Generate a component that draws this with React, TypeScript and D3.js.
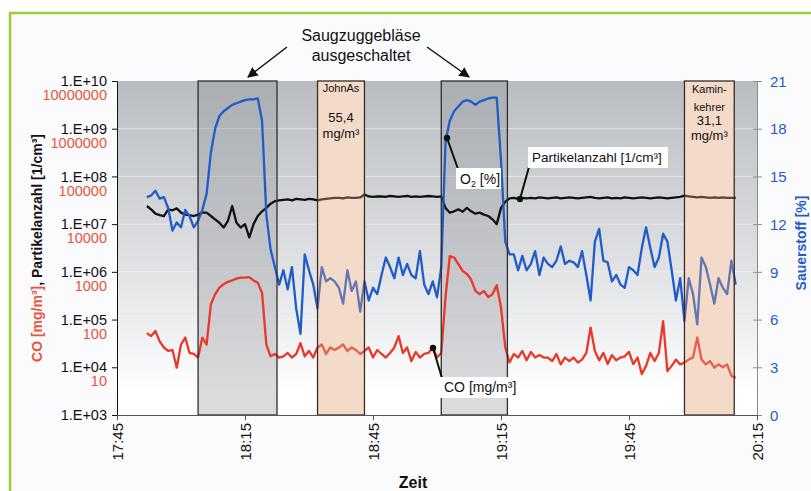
import React, { useEffect, useRef } from "react";
import * as d3 from "d3";

const W = 811;
const H = 491;

// one reading per minute, first one at 17:52
const startTime = "17:52";

// Sauerstoff [%]
const oxygen = [
  13.7, 13.8, 14.1, 13.6, 13.7, 13.0, 11.6, 12.1, 11.8, 12.9,
  12.5, 11.8, 12.2, 12.9, 13.9, 16.5, 18.0, 18.8, 19.1, 19.3,
  19.5, 19.6, 19.7, 19.8, 19.85, 19.85, 19.9, 18.5, 12.6, 10.4,
  9.3, 8.2, 9.1, 7.9, 9.3, 6.7, 5.1, 10.1, 9.1, 8.2,
  6.7, 9.3, 8.4, 8.6, 8.4, 8.0, 7.0, 9.1, 7.8, 8.4,
  6.5, 8.4, 7.2, 8.0, 7.6, 8.8, 9.9, 9.3, 8.6, 9.9,
  8.8, 9.5, 8.8, 8.6, 10.3, 8.2, 7.6, 8.4, 7.4, 9.3,
  17.2, 18.5, 19.1, 19.4, 19.7, 19.8, 19.7, 19.5, 19.7, 19.8,
  19.9, 19.95, 19.95, 16.0, 10.9, 10.1, 10.1, 9.1, 10.0, 9.1,
  9.5, 10.3, 8.8, 9.9, 9.5, 9.3, 9.7, 10.6, 9.5, 9.7,
  9.6, 9.3, 10.3, 8.8, 7.2, 10.9, 11.7, 9.7, 9.6, 8.4,
  8.8, 8.2, 8.0, 9.3, 9.1, 8.8, 10.5, 11.8, 10.5, 9.3,
  9.9, 11.4, 10.9, 9.1, 7.2, 8.6, 5.9, 8.6, 7.6, 5.7,
  9.9, 9.3, 8.2, 7.0, 8.6, 8.0, 7.6, 9.7, 8.2,
];

// Partikelanzahl [1/cm³]
const particles = [
  2.4e7, 2.04e7, 1.66e7, 1.55e7, 1.48e7, 2.04e7, 1.95e7, 2.14e7, 1.74e7, 1.58e7,
  1.55e7, 1.48e7, 1.58e7, 1.74e7, 1.74e7, 1.48e7, 1.26e7, 1.07e7, 8.5e6, 1.17e7,
  2.4e7, 1.07e7, 8.5e6, 1.0e7, 5.25e6, 1.0e7, 1.48e7, 1.86e7, 2.19e7, 2.69e7,
  3.02e7, 3.16e7, 3.24e7, 3.31e7, 3.16e7, 3.39e7, 3.31e7, 3.24e7, 3.39e7, 3.31e7,
  3.16e7, 3.31e7, 3.39e7, 3.47e7, 3.55e7, 3.55e7, 3.47e7, 3.63e7, 3.55e7, 3.55e7,
  3.63e7, 4.17e7, 3.8e7, 3.72e7, 3.8e7, 3.8e7, 3.72e7, 3.89e7, 3.8e7, 3.72e7,
  3.8e7, 3.89e7, 3.72e7, 3.8e7, 3.72e7, 3.8e7, 3.89e7, 3.8e7, 3.72e7, 3.8e7,
  2.19e7, 1.74e7, 1.86e7, 2.04e7, 1.82e7, 2.19e7, 1.86e7, 1.66e7, 1.74e7, 1.58e7,
  1.48e7, 1.26e7, 1.0e7, 2.19e7, 2.95e7, 3.47e7, 3.55e7, 3.39e7, 3.55e7, 3.47e7,
  3.55e7, 3.47e7, 3.63e7, 3.55e7, 3.47e7, 3.55e7, 3.63e7, 3.47e7, 3.55e7, 3.63e7,
  3.55e7, 3.47e7, 3.55e7, 3.63e7, 3.72e7, 3.55e7, 3.47e7, 3.55e7, 3.63e7, 3.47e7,
  3.55e7, 3.47e7, 3.63e7, 3.55e7, 3.47e7, 3.55e7, 3.63e7, 3.55e7, 3.47e7, 3.55e7,
  3.63e7, 3.55e7, 3.47e7, 3.55e7, 3.63e7, 3.72e7, 3.98e7, 3.8e7, 3.72e7, 3.63e7,
  3.72e7, 3.63e7, 3.55e7, 3.63e7, 3.55e7, 3.63e7, 3.55e7, 3.55e7, 3.55e7,
];

// CO [mg/m³]
const co = [
  52, 45, 58, 35, 26, 22, 23, 9.8, 30, 42,
  20, 19, 16, 42, 30, 209, 339, 468, 550, 617,
  661, 724, 759, 759, 776, 661, 589, 363, 30, 17,
  19, 16, 17, 20, 16, 19, 32, 17, 22, 16,
  26, 30, 19, 26, 23, 26, 30, 22, 26, 23,
  19, 22, 26, 16, 23, 19, 16, 20, 26, 45,
  20, 26, 13.5, 21, 16, 19, 20, 26, 16, 20,
  300, 2140, 2000, 1450, 1050, 900, 690, 400, 340, 400,
  295, 340, 525, 180, 26, 12.6, 19, 16, 22, 14,
  21, 16, 18, 16, 16, 13.5, 19, 11.5, 16, 13.5,
  16, 12.6, 14.5, 20, 68, 22, 14, 20, 11.7, 18,
  14, 16, 17, 21, 11.7, 16, 7.2, 10.7, 20, 13.5,
  20, 93, 8.3, 10.7, 14.5, 11.5, 12.6, 14.5, 16, 42,
  14.5, 11.5, 13.5, 9.8, 11.5, 10, 11.5, 6.6, 6,
];

// Saugzuggebläse ausgeschaltet
const fanOffFrom = ["18:04:00", "19:01:00"];
const fanOffTo = ["18:22:30", "19:16:30"];

// reference measurements
const refFrom = ["18:32:00", "19:58:00"];
const refTo = ["18:43:00", "20:09:40"];

const particleTicks = [1e3, 1e4, 1e5, 1e6, 1e7, 1e8, 1e9, 1e10];
const particleTickLabels = ["1.E+03", "1.E+04", "1.E+05", "1.E+06", "1.E+07", "1.E+08", "1.E+09", "1.E+10"];
const coTickLabels = ["", "10", "100", "1000", "10000", "100000", "1000000", "10000000"];
const o2Ticks = [0, 3, 6, 9, 12, 15, 18, 21];
const timeTicks = ["17:45", "18:15", "18:45", "19:15", "19:45", "20:15"];

const parseHM = d3.timeParse("%H:%M");
const parseHMS = d3.timeParse("%H:%M:%S");
const toDate = (s: string) => (s.length > 5 ? parseHMS(s) : parseHM(s)) as Date;

const BLUE = "#1f5cc8";
const RED = "#ea3828";
const RED_LABEL = "#e8553c";
const FONT = "'Liberation Sans', Arial, Helvetica, sans-serif";

const App = () => {
  const svgRef = useRef<SVGSVGElement>(null);

  useEffect(() => {
    document.body.style.margin = "0";
    drawChart();
  }, []);

  const drawChart = () => {
    const root = d3.select(svgRef.current);
    root.selectAll("*").remove();

    const left = 117, right = 757, top = 81, bottom = 415;

    const x = d3.scaleTime().domain([toDate("17:45"), toDate("20:15")]).range([left, right]);
    const yPart = d3.scaleLog().domain([1e3, 1e10]).range([bottom, top]);
    const yCO = d3.scaleLog().domain([1, 1e7]).range([bottom, top]);
    const yO2 = d3.scaleLinear().domain([0, 21]).range([bottom, top]);

    const times = oxygen.map((_, i) => d3.timeMinute.offset(toDate(startTime), i));

    const defs = root.append("defs");
    const grad = defs.append("linearGradient").attr("id", "bg").attr("x1", 0).attr("y1", 0).attr("x2", 0).attr("y2", 1);
    grad.append("stop").attr("offset", "0%").attr("stop-color", "#b9bdc1");
    grad.append("stop").attr("offset", "45%").attr("stop-color", "#d8dadd");
    grad.append("stop").attr("offset", "75%").attr("stop-color", "#eff0f2");
    grad.append("stop").attr("offset", "93%").attr("stop-color", "#ffffff");
    defs.append("marker")
      .attr("id", "arrow")
      .attr("viewBox", "0 0 10 10")
      .attr("refX", 9)
      .attr("refY", 5)
      .attr("markerWidth", 7)
      .attr("markerHeight", 7)
      .attr("orient", "auto")
      .append("path")
      .attr("d", "M0,0 L10,5 L0,10 z")
      .attr("fill", "#111");

    // page + green frame
    root.append("rect").attr("width", W).attr("height", H).attr("fill", "#ffffff");
    root.append("rect").attr("x", 10).attr("y", 13).attr("width", W - 10).attr("height", H - 13).attr("fill", "#fbfbfd");
    root.append("path").attr("d", `M10,${H} L10,13 L${W},13`).attr("fill", "none").attr("stroke", "#9dcb3c").attr("stroke-width", 2.5);

    const svg = root.append("g").style("font-family", FONT);

    // plot background
    svg.append("rect").attr("x", left).attr("y", top).attr("width", right - left).attr("height", bottom - top).attr("fill", "url(#bg)");
    svg.append("g")
      .selectAll("line")
      .data(particleTicks.slice(1, -1))
      .enter()
      .append("line")
      .attr("x1", left).attr("x2", right)
      .attr("y1", (d) => yPart(d)).attr("y2", (d) => yPart(d))
      .attr("stroke", "rgba(255,245,245,0.55)");

    // fan-off periods (under the lines)
    svg.append("g")
      .selectAll("rect")
      .data(fanOffFrom)
      .enter()
      .append("rect")
      .attr("x", (d) => x(toDate(d)))
      .attr("y", top)
      .attr("width", (d, i) => x(toDate(fanOffTo[i])) - x(toDate(d)))
      .attr("height", bottom - top)
      .attr("fill", "rgba(140,144,150,0.32)");

    // reference measurement boxes, base layer
    svg.append("g")
      .selectAll("rect")
      .data(refFrom)
      .enter()
      .append("rect")
      .attr("x", (d) => x(toDate(d)))
      .attr("y", top)
      .attr("width", (d, i) => x(toDate(refTo[i])) - x(toDate(d)))
      .attr("height", bottom - top)
      .attr("fill", "#fcf1e8");

    const lineCO = d3.line<number>().x((d, i) => x(times[i])).y((d) => yCO(d));
    const linePart = d3.line<number>().x((d, i) => x(times[i])).y((d) => yPart(d));
    const lineO2 = d3.line<number>().x((d, i) => x(times[i])).y((d) => yO2(d));

    svg.append("path").datum(co).attr("d", lineCO).attr("fill", "none").attr("stroke", RED).attr("stroke-width", 2.3).attr("stroke-linejoin", "round");
    svg.append("path").datum(particles).attr("d", linePart).attr("fill", "none").attr("stroke", "#111").attr("stroke-width", 2.3).attr("stroke-linejoin", "round");
    svg.append("path").datum(oxygen).attr("d", lineO2).attr("fill", "none").attr("stroke", BLUE).attr("stroke-width", 2.3).attr("stroke-linejoin", "round");

    // reference boxes, tinted overlay over the lines
    svg.append("g")
      .selectAll("rect")
      .data(refFrom)
      .enter()
      .append("rect")
      .attr("x", (d) => x(toDate(d)))
      .attr("y", top)
      .attr("width", (d, i) => x(toDate(refTo[i])) - x(toDate(d)))
      .attr("height", bottom - top)
      .attr("fill", "rgba(226,172,140,0.34)")
      .attr("stroke", "#3a2c24")
      .attr("stroke-width", 1.3);

    svg.append("g")
      .selectAll("rect")
      .data(fanOffFrom)
      .enter()
      .append("rect")
      .attr("x", (d) => x(toDate(d)))
      .attr("y", top)
      .attr("width", (d, i) => x(toDate(fanOffTo[i])) - x(toDate(d)))
      .attr("height", bottom - top)
      .attr("fill", "none")
      .attr("stroke", "#2e2e2e")
      .attr("stroke-width", 1.3);

    // left axis
    const gLeft = svg.append("g").attr("transform", `translate(${left},0)`);
    gLeft.call(d3.axisLeft(yPart).tickValues(particleTicks).tickFormat(() => "").tickSize(5).tickSizeOuter(0));
    gLeft.select(".domain").attr("stroke", "#111");
    gLeft.selectAll(".tick line").attr("stroke", "#111");
    particleTicks.forEach((v, i) => {
      gLeft.append("text")
        .attr("x", -10).attr("y", yPart(v)).attr("dy", "0.35em")
        .attr("text-anchor", "end").attr("font-size", 14.5).attr("fill", "#111")
        .text(particleTickLabels[i]);
      if (coTickLabels[i]) {
        gLeft.append("text")
          .attr("x", -10).attr("y", yPart(v) + 14).attr("dy", "0.35em")
          .attr("text-anchor", "end").attr("font-size", 14.5).attr("fill", RED_LABEL)
          .text(coTickLabels[i]);
      }
    });

    // right axis
    const gRight = svg.append("g").attr("transform", `translate(${right},0)`);
    gRight.call(d3.axisRight(yO2).tickValues(o2Ticks).tickFormat(() => "").tickSize(5).tickSizeOuter(0));
    gRight.select(".domain").attr("stroke", "#8a8d90");
    gRight.selectAll(".tick line").attr("x1", -4).attr("stroke", "#8a8d90");
    gRight.selectAll(".tick")
      .append("text")
      .attr("x", 13).attr("dy", "0.35em")
      .attr("font-size", 15).attr("fill", BLUE)
      .text((d: any) => String(d));

    // bottom axis
    const gBottom = svg.append("g").attr("transform", `translate(0,${bottom})`);
    gBottom.call(d3.axisBottom(x).tickValues(timeTicks.map(toDate)).tickFormat(() => "").tickSize(5).tickSizeOuter(0));
    gBottom.select(".domain").attr("stroke", "#555");
    gBottom.selectAll(".tick line").attr("stroke", "#555");
    gBottom.selectAll(".tick")
      .append("text")
      .attr("transform", "rotate(-90)")
      .attr("x", -8).attr("dy", "0.35em")
      .attr("text-anchor", "end").attr("font-size", 15).attr("fill", "#111")
      .text((d: any, i: number) => timeTicks[i]);

    // axis titles
    const tLeft = svg.append("text")
      .attr("transform", "translate(42,248) rotate(-90)")
      .attr("text-anchor", "middle").attr("font-size", 14).attr("font-weight", "bold");
    tLeft.append("tspan").attr("fill", RED_LABEL).text("CO [mg/m³]");
    tLeft.append("tspan").attr("fill", "#111").text(", Partikelanzahl [1/cm³]");

    svg.append("text")
      .attr("transform", "translate(806,243) rotate(-90)")
      .attr("text-anchor", "middle").attr("font-size", 14).attr("font-weight", "bold").attr("fill", BLUE)
      .text("Sauerstoff [%]");

    svg.append("text")
      .attr("x", 413).attr("y", 488)
      .attr("text-anchor", "middle").attr("font-size", 16).attr("font-weight", "bold").attr("fill", "#111")
      .text("Zeit");

    // fan annotation
    svg.append("text").attr("x", 361).attr("y", 41).attr("text-anchor", "middle").attr("font-size", 16).attr("fill", "#111").text("Saugzuggebläse");
    svg.append("text").attr("x", 361).attr("y", 61).attr("text-anchor", "middle").attr("font-size", 16).attr("fill", "#111").text("ausgeschaltet");
    svg.append("line").attr("x1", 287).attr("y1", 47).attr("x2", 248).attr("y2", 77).attr("stroke", "#111").attr("stroke-width", 1.5).attr("marker-end", "url(#arrow)");
    svg.append("line").attr("x1", 427).attr("y1", 47).attr("x2", 469).attr("y2", 77).attr("stroke", "#111").attr("stroke-width", 1.5).attr("marker-end", "url(#arrow)");

    // reference measurement texts
    const cx1 = (x(toDate(refFrom[0])) + x(toDate(refTo[0]))) / 2;
    const cx2 = (x(toDate(refFrom[1])) + x(toDate(refTo[1]))) / 2;
    const note = (cx: number, y: number, size: number, txt: string) =>
      svg.append("text").attr("x", cx).attr("y", y).attr("text-anchor", "middle").attr("font-size", size).attr("fill", "#111").text(txt);
    note(cx1, 92, 11, "JohnAs");
    note(cx1, 122, 13, "55,4");
    note(cx1, 138, 13, "mg/m³");
    note(cx2, 93, 11, "Kamin-");
    note(cx2, 111, 11, "kehrer");
    note(cx2, 125, 13, "31,1");
    note(cx2, 140, 13, "mg/m³");

    // callouts
    const callout = (dot: [number, number], end: [number, number], box: [number, number, number, number]) => {
      svg.append("line").attr("x1", dot[0]).attr("y1", dot[1]).attr("x2", end[0]).attr("y2", end[1]).attr("stroke", "#111").attr("stroke-width", 2);
      svg.append("circle").attr("cx", dot[0]).attr("cy", dot[1]).attr("r", 3.2).attr("fill", "#111");
      svg.append("rect").attr("x", box[0]).attr("y", box[1]).attr("width", box[2]).attr("height", box[3]).attr("fill", "#ffffff");
    };
    callout([447, 138], [458, 169], [456, 168, 45, 21]);
    const o2 = svg.append("text").attr("x", 460).attr("y", 184).attr("font-size", 14).attr("fill", "#111");
    o2.append("tspan").text("O");
    o2.append("tspan").attr("font-size", 9).attr("dy", 3).text("2");
    o2.append("tspan").attr("dy", -3).text(" [%]");

    callout([520, 199], [529, 167], [528, 147, 140, 21]);
    svg.append("text").attr("x", 532).attr("y", 162).attr("font-size", 13.5).attr("fill", "#111").text("Partikelanzahl [1/cm³]");

    callout([433, 348], [442, 378], [440, 377, 80, 21]);
    svg.append("text").attr("x", 444).attr("y", 392).attr("font-size", 14).attr("fill", "#111").text("CO [mg/m³]");
  };

  return <svg ref={svgRef} width={W} height={H} style={{ display: "block" }} />;
};

export default App;
